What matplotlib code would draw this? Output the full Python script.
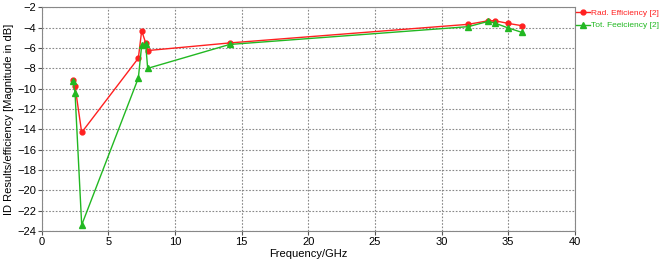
import matplotlib
matplotlib.use("Agg")
import matplotlib.pyplot as plt
from matplotlib.lines import Line2D

plt.rcParams['font.family'] = ['Liberation Sans', 'DejaVu Sans']

rad_freq = [2.35, 2.5, 3.0, 7.25, 7.5, 7.8, 7.95, 14.1, 32.0, 33.5, 34.0, 35.0, 36.0]
rad_eff = [-9.1, -9.75, -14.3, -7.0, -4.3, -5.5, -6.25, -5.5, -3.67, -3.32, -3.32, -3.58, -3.8]
tot_freq = [2.35, 2.5, 3.0, 7.25, 7.5, 7.8, 7.95, 14.1, 32.0, 33.5, 34.0, 35.0, 36.0]
tot_eff = [-9.2, -10.4, -23.4, -8.95, -5.75, -5.6, -8.0, -5.65, -3.9, -3.38, -3.55, -4.03, -4.45]
labels = ["Rad. Efficiency [2]", "Tot. Feeiciency [2]"]
xticks = list(range(0, 41, 5))
yticks = list(range(-24, -1, 2))

red = '#ff2020'
green = '#22b822'

fig = plt.figure(figsize=(6.64, 2.62), dpi=100)
ax = fig.add_axes([0.0628, 0.118, 0.803, 0.854])
ax.plot(rad_freq, rad_eff, color=red, lw=1.0, marker='o', ms=3.5, mec=red, mfc=red)
ax.plot(tot_freq, tot_eff, color=green, lw=1.0, marker='^', ms=4, mec=green, mfc=green)
ax.set_xlim(0, 40)
ax.set_ylim(-24, -2)
ax.set_xticks(xticks)
ax.set_yticks(yticks)
ax.tick_params(labelsize=8, length=3, color='#555555', pad=1)
ax.grid(True, linestyle=(0, (1.5, 1.5)), color='#888888', lw=0.8)
for s in ax.spines.values():
    s.set_color('#888888')
ax.set_xlabel("Frequency/GHz", fontsize=8, labelpad=2)
ax.set_ylabel("ID Results/efficiency [Magnitude in dB]", fontsize=8, labelpad=2)

handles = [Line2D([], [], color=red, lw=1.0, marker='o', ms=3.5),
           Line2D([], [], color=green, lw=1.0, marker='^', ms=4)]
leg = fig.legend(handles, labels, loc='upper left', bbox_to_anchor=(0.868, 0.965),
                 frameon=False, fontsize=6.0, handlelength=1.6, handletextpad=0.15,
                 labelspacing=0.55, borderaxespad=0, borderpad=0)
for t, c in zip(leg.get_texts(), [red, green]):
    t.set_color(c)

fig.savefig("out.png", dpi=100)
